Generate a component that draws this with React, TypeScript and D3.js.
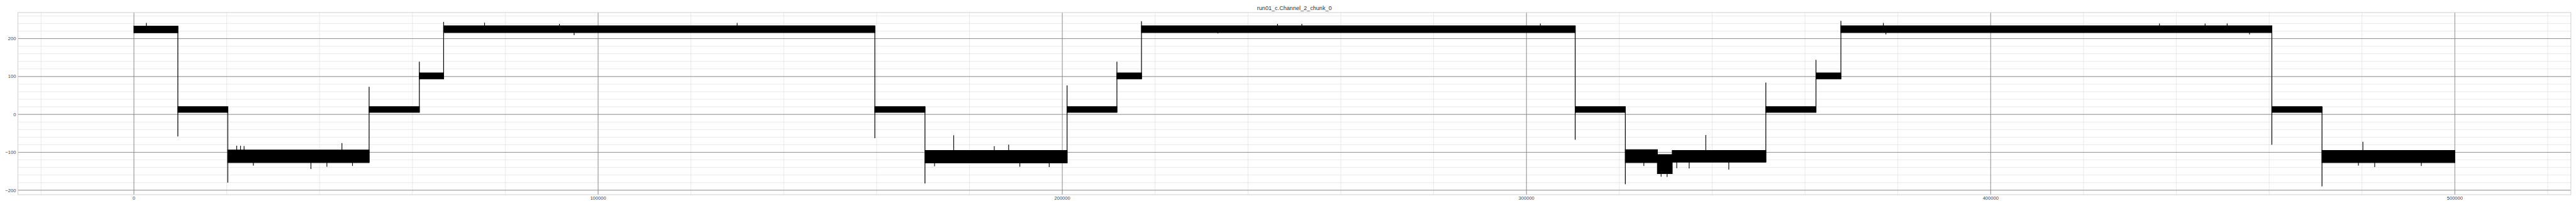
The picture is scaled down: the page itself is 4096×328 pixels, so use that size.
import React from 'react';
import * as d3 from 'd3';

// reference is 5400x432, window is 4096x328 -> draw in reference units, viewBox scales it
const W = 5400;
const H = 432;

const title = 'run01_c.Channel_2_chunk_0';

// flat stretches of the trace: sample start/end and the noise band (low/high)
const segStart = [0, 9465, 20214, 50667, 61485, 66721, 159614, 170416, 201032, 211765, 217062, 310491, 321293, 328200, 331400, 351565, 362366, 367733, 460578, 471379];
const segEnd = [9465, 20214, 50667, 61485, 66721, 159614, 170416, 201032, 211765, 217062, 310491, 321293, 328200, 331400, 351565, 362366, 367733, 460578, 471379, 500000];
const segLo = [215.5, 5.5, -127, 5.5, 93.5, 216, 5.5, -128, 5.5, 93.5, 216, 5.5, -127, -156, -126, 5.5, 93.5, 216, 5.5, -127];
const segHi = [233, 20.5, -94, 20.5, 109.5, 234, 20.5, -95, 20.5, 109.5, 234, 20.5, -93, -106, -95, 20.5, 109.5, 234, 20.5, -95];

// steps between stretches, with the overshoot value at each one
const stepX = [9465, 20214, 50667, 61485, 66721, 159614, 170416, 201032, 211765, 217062, 310491, 321293, 351565, 362366, 367733, 460578, 471379];
const stepSpike = [-58, -180, 73, 139, 244, -62.5, -182, 76.7, 139, 246, -67, -184, 84, 144, 247, -80, -190];

// isolated noise spikes
const spikeX = [2672, 22143, 22970, 23728, 44811, 38128, 41573, 25726, 47085, 75540, 94832, 91663, 129955,
  176608, 188442, 185346, 190850, 197179, 172480, 246371, 251600, 233506, 302992,
  338630, 335053, 343584, 332370, 325283, 329000, 330300, 376883, 377433,
  436360, 446198, 450946, 455762, 480186, 482731, 492776, 479222];
const spikeY = [241.5, -82.6, -82.6, -83.5, -75.5, -144, -138, -135, -136, 242, 209, 239, 241.5,
  -55, -79.7, -84, -138, -139, -137, 239, 239, 213.8, 239.8,
  -54.5, -142.6, -145.5, -142, -136, -164, -165, 241.5, 211,
  240, 240, 240.3, 211, -72, -139, -136, -135];

const xMajor = [0, 100000, 200000, 300000, 400000, 500000];
const yMajor = [-200, -100, 0, 100, 200];

const margin = { left: 37.5, right: 10.7, top: 26.3, bottom: 23.7 };

const fmt = (v: number) => (v < 0 ? '\u2212' : '') + Math.abs(v);

export default function App() {
  const x0 = d3.min(segStart)!;
  const x1 = d3.max(segEnd)!;
  const xPad = (x1 - x0) * 0.05;
  const yMin = d3.min([...segLo, ...stepSpike, ...spikeY])!;
  const yMax = d3.max([...segHi, ...stepSpike, ...spikeY])!;
  const yPad = (yMax - yMin) * 0.05;

  const x = d3.scaleLinear().domain([x0 - xPad, x1 + xPad]).range([margin.left, W - margin.right]);
  const y = d3.scaleLinear().domain([yMin - yPad, yMax + yPad]).range([H - margin.bottom, margin.top]);

  const xMinor = d3.range(-20000, x1 + xPad, 20000);
  const yMinor = d3.range(-200, yMax + yPad, 20);

  const band = d3.area<number>()
    .x((d, i) => x(i % 2 === 0 ? segStart[d] : segEnd[d]))
    .y0(d => y(segLo[d]))
    .y1(d => y(segHi[d]));

  const segAt = (v: number) => segStart.findIndex((s, i) => v >= s && v <= segEnd[i]);

  const font = '"Liberation Sans", Arial, sans-serif';

  return (
    <div style={{ position: 'absolute', left: 0, top: 0 }}>
      <svg width={4096} height={328} viewBox={`0 0 ${W} ${H}`} preserveAspectRatio="none" style={{ display: 'block' }}>
        <rect width={W} height={H} fill="#fff" />
        <g>
          {xMinor.map(v => (
            <line key={'xm' + v} x1={x(v)} x2={x(v)} y1={margin.top} y2={H - margin.bottom} stroke="#e2e2e2" strokeWidth={1} />
          ))}
          {yMinor.map(v => (
            <line key={'ym' + v} x1={margin.left} x2={W - margin.right} y1={y(v)} y2={y(v)} stroke="#e2e2e2" strokeWidth={1} />
          ))}
          {xMajor.map(v => (
            <line key={'xM' + v} x1={x(v)} x2={x(v)} y1={margin.top} y2={H - margin.bottom} stroke="#808080" strokeWidth={1.1} />
          ))}
          {yMajor.map(v => (
            <line key={'yM' + v} x1={margin.left} x2={W - margin.right} y1={y(v)} y2={y(v)} stroke="#808080" strokeWidth={1.1} />
          ))}
        </g>
        <g>
          {segStart.map((_, i) => (
            <path key={'b' + i} d={band([i, i]) || ''} fill="#000" stroke="#000" strokeWidth={1.5} />
          ))}
          {stepX.map((v, i) => {
            const a = segAt(v - 1);
            const b = segAt(v + 1);
            const lo = Math.min(segLo[a], segLo[b], stepSpike[i]);
            const hi = Math.max(segHi[a], segHi[b], stepSpike[i]);
            return <line key={'s' + i} x1={x(v)} x2={x(v)} y1={y(lo)} y2={y(hi)} stroke="#000" strokeWidth={1.6} />;
          })}
          {spikeX.map((v, i) => {
            const s = segAt(v);
            const from = spikeY[i] > segHi[s] ? segHi[s] : segLo[s];
            return <line key={'p' + i} x1={x(v)} x2={x(v)} y1={y(from)} y2={y(spikeY[i])} stroke="#000" strokeWidth={1.5} />;
          })}
        </g>
        <rect x={margin.left} y={margin.top} width={W - margin.left - margin.right} height={H - margin.top - margin.bottom}
          fill="none" stroke="#cccccc" strokeWidth={1.25} />
        <g fontFamily={font} fontSize={10} fill="#444">
          {yMajor.map(v => (
            <text key={'yt' + v} x={margin.left - 4} y={y(v)} dy="0.35em" textAnchor="end">{fmt(v)}</text>
          ))}
          {xMajor.map(v => (
            <text key={'xt' + v} x={x(v)} y={H - margin.bottom + 11} textAnchor="middle">{fmt(v)}</text>
          ))}
        </g>
        <text x={(margin.left + W - margin.right) / 2} y={20.8} textAnchor="middle" fontFamily={font} fontSize={12} fill="#333">{title}</text>
      </svg>
    </div>
  );
}
